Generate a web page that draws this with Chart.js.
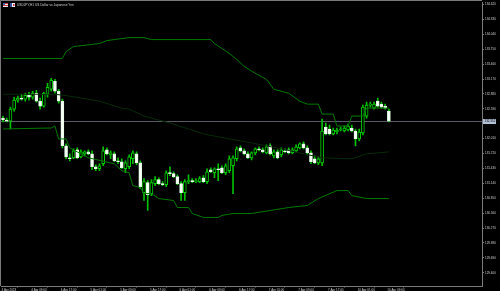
<!DOCTYPE html>
<html><head><meta charset="utf-8">
<script src="https://cdn.jsdelivr.net/npm/chart.js@4.4.0/dist/chart.umd.min.js"></script>
<style>html,body{margin:0;padding:0;background:#000;}canvas{display:block}</style>
</head><body>
<canvas id="c" width="500" height="291"></canvas>
<script>
// ---- data (USDJPY H1, 4 Apr 01:00 .. 10 Apr 09:00) ----
const opens = [132.410,132.372,132.352,132.584,132.758,132.797,132.778,132.855,132.816,132.894,
132.739,132.642,132.874,132.971,133.126,132.932,132.739,131.869,131.637,131.637,
131.792,131.656,131.714,131.753,131.714,131.463,131.424,131.521,131.792,131.695,
131.714,131.579,131.560,131.424,131.463,131.618,131.714,131.540,130.960,131.154,
130.941,131.134,131.212,131.134,131.115,131.347,131.328,131.270,131.134,130.960,
131.173,131.192,131.173,131.173,131.250,131.173,131.405,131.347,131.424,131.444,
131.347,131.386,131.482,131.618,131.830,131.772,131.714,131.637,131.734,131.811,
131.792,131.734,131.869,131.676,131.753,131.695,131.772,131.792,131.734,131.772,
131.830,131.908,131.830,131.734,131.618,131.540,131.540,132.236,132.198,132.101,
132.140,132.178,132.159,132.178,132.217,132.159,132.004,132.120,132.449,132.662,
132.604,132.739,132.681,132.642,132.546];
const highs = [132.449,132.410,132.623,132.816,132.836,132.874,132.894,132.913,132.932,132.952,
132.797,132.913,133.087,133.184,133.165,132.971,132.778,131.908,131.714,131.811,
131.830,131.792,131.772,131.792,131.772,131.502,131.521,131.850,131.830,131.772,
131.753,131.637,131.618,131.579,131.695,131.772,131.753,131.579,131.231,131.192,
131.212,131.270,131.250,131.173,131.386,131.463,131.366,131.308,131.173,131.212,
131.308,131.231,131.231,131.270,131.289,131.424,131.444,131.444,131.521,131.482,
131.521,131.676,131.676,131.850,131.869,131.811,131.753,131.753,131.830,131.850,
131.830,131.888,131.908,131.792,131.792,131.830,131.811,131.830,131.830,131.888,
131.927,131.946,131.869,131.772,131.676,131.656,132.391,132.314,132.275,132.217,
132.217,132.236,132.256,132.294,132.275,132.198,132.198,132.662,132.720,132.720,
132.720,132.797,132.720,132.681,132.584];
const lows = [132.333,132.333,132.198,132.546,132.720,132.758,132.739,132.758,132.778,132.720,
132.584,132.623,132.816,132.932,132.894,132.700,131.830,131.618,131.579,131.618,
131.618,131.637,131.676,131.695,131.405,131.386,131.386,131.482,131.695,131.618,
131.560,131.521,131.424,131.347,131.424,131.521,131.502,131.038,130.806,130.612,
130.902,131.096,131.115,131.096,131.076,131.289,131.250,131.115,130.806,130.806,
131.134,131.154,131.154,131.154,131.154,131.134,131.347,131.250,131.192,131.328,
131.308,131.347,130.941,131.579,131.753,131.695,131.618,131.598,131.695,131.772,
131.734,131.714,131.695,131.637,131.618,131.656,131.734,131.714,131.714,131.753,
131.811,131.811,131.695,131.521,131.521,131.502,131.482,132.082,132.082,132.082,
132.101,132.159,132.140,132.159,132.140,131.869,131.966,132.082,132.410,132.623,
132.584,132.623,132.604,132.584,132.333];
const closes = [132.372,132.352,132.584,132.758,132.797,132.778,132.855,132.816,132.894,132.739,
132.642,132.894,133.010,133.145,132.932,132.739,131.869,131.656,131.618,131.772,
131.637,131.753,131.753,131.714,131.463,131.424,131.482,131.772,131.714,131.734,
131.579,131.560,131.444,131.540,131.656,131.734,131.540,131.076,131.173,130.922,
131.154,131.212,131.134,131.115,131.347,131.328,131.270,131.134,130.960,131.173,
131.192,131.173,131.192,131.231,131.173,131.366,131.366,131.424,131.405,131.347,
131.482,131.618,131.637,131.811,131.772,131.714,131.637,131.734,131.811,131.792,
131.753,131.850,131.714,131.753,131.637,131.792,131.753,131.734,131.792,131.850,
131.908,131.830,131.734,131.560,131.540,131.618,132.159,132.101,132.101,132.178,
132.178,132.198,132.217,132.256,132.159,132.004,132.140,132.623,132.662,132.681,
132.681,132.642,132.623,132.604,132.352];

// indicator lines: breakpoints (bar index, price)
const upperX = [0,16,17,19,26,28,34,38,40,56,57,59,61,63,65,68,71,73,77,80,82,85,86,89,90,93,94,97,98,104];
const upperY = [133.570,133.570,133.705,133.802,133.860,133.918,133.976,133.976,133.937,133.937,133.860,133.763,133.667,133.551,133.415,133.280,133.164,132.971,132.894,132.739,132.681,132.681,132.488,132.488,132.256,132.256,132.449,132.449,132.604,132.604];
const midX = [0,14,18,26,32,34,38,45,50,54,61,67,75,86,94,98,104];
const midY = [132.874,132.874,132.836,132.739,132.604,132.584,132.449,132.314,132.198,132.101,132.004,131.927,131.811,131.637,131.618,131.714,131.753];
const lowerX = [0,13,14,15,17,18,23,30,32,34,35,37,38,40,42,46,47,50,51,54,58,59,62,67,77,82,85,90,93,94,98,104];
const lowerY = [132.198,132.217,132.256,132.004,132.004,131.830,131.637,131.521,131.386,131.347,131.096,131.057,130.941,130.941,130.844,130.806,130.670,130.670,130.554,130.477,130.477,130.516,130.554,130.554,130.670,130.709,130.844,130.999,130.999,130.902,130.844,130.844];

const yTicks = [134.620,134.330,134.040,133.750,133.460,133.170,132.880,132.590,132.010,131.720,131.430,131.140,130.850,130.560,130.270,129.980,129.690,129.400];
const xTickIdx = [0,8,16,24,32,40,48,56,64,72,80,88,96,104];
const xTickText = ['4 Apr 2023','4 Apr 09:00','4 Apr 17:00','5 Apr 01:00','5 Apr 09:00','5 Apr 17:00','6 Apr 01:00','6 Apr 09:00','6 Apr 17:00','7 Apr 01:00','7 Apr 09:00','7 Apr 17:00','10 Apr 01:00','10 Apr 09:00'];
const titleSymbol = 'USDJPY,H1';
const titleText = 'US Dollar vs Japanese Yen';

// ---- build ----
const bodyData = opens.map((o,i)=>({x:i, y:[o, closes[i]]}));
const wickData = lows.map((l,i)=>({x:i, y:[l, highs[i]]}));
const isBull = opens.map((o,i)=>closes[i] >= o);
const pts = (xs, ys) => xs.map((x,i)=>({x, y:ys[i]}));
const AX = '#7a7a7a', TXT = '#cfcfcf', FONT = 'Liberation Sans';

const decor = {
  id:'decor',
  beforeDraw(chart){
    const ctx = chart.ctx; ctx.save(); ctx.fillStyle='#000'; ctx.fillRect(0,0,chart.width,chart.height); ctx.restore();
  },
  beforeDatasetsDraw(chart){
    const {ctx, chartArea:a, scales:{y}} = chart;
    const py = Math.round(y.getPixelForValue(closes[closes.length-1])) + 0.5;
    ctx.save(); ctx.strokeStyle='#585866'; ctx.lineWidth=1;
    ctx.beginPath(); ctx.moveTo(a.left, py); ctx.lineTo(a.right, py); ctx.stroke(); ctx.restore();
  },
  afterDraw(chart){
    const {ctx, chartArea:a, scales:{y}} = chart;
    ctx.save();
    ctx.strokeStyle=AX; ctx.lineWidth=1;
    ctx.beginPath(); ctx.moveTo(0.5, a.bottom); ctx.lineTo(0.5, 0.5); ctx.lineTo(a.right, 0.5); ctx.stroke();
    const last = closes[closes.length-1];
    const py = Math.round(y.getPixelForValue(last)) + 0.5;
    ctx.fillStyle='#b4c0d6'; ctx.fillRect(a.right+1, py-2.5, 13, 5);
    ctx.fillStyle='#000'; ctx.font='3px "'+FONT+'"'; ctx.textBaseline='middle'; ctx.textAlign='left';
    ctx.fillText(last.toFixed(3), a.right+2.5, py);
    // title icons
    ctx.fillStyle='#e8e8e8'; ctx.fillRect(3,3,5,4);
    ctx.fillStyle='#d04040'; ctx.fillRect(3,3,5,1); ctx.fillRect(3,5,5,1);
    ctx.fillStyle='#4060b0'; ctx.fillRect(3,3,2,2);
    ctx.fillStyle='#f0f0f0'; ctx.fillRect(10,3,5,4);
    ctx.fillStyle='#3050a0'; ctx.fillRect(10,3,2,4);
    ctx.fillStyle='#d03030'; ctx.fillRect(13,4,1.5,2);
    ctx.fillStyle=TXT; ctx.font='3.2px "'+FONT+'"';
    ctx.fillText(titleSymbol, 17, 5.2);
    ctx.fillText(titleText, 35, 5.2);
    ctx.restore();
  }
};

new Chart(document.getElementById('c'), {
  type:'bar',
  data:{ datasets:[
    {type:'line', data:pts(upperX, upperY), borderColor:'#007a00', borderWidth:1, pointRadius:0, tension:0},
    {type:'line', data:pts(lowerX, lowerY), borderColor:'#007a00', borderWidth:1, pointRadius:0, tension:0},
    {type:'line', data:pts(midX, midY), borderColor:'#072a07', borderWidth:1, pointRadius:0, tension:0},
    {type:'bar', data:bodyData, backgroundColor:isBull.map(b=>b?'#000000':'#ffffff'),
      borderColor:isBull.map(b=>b?'#00d000':'#e0ffe0'), borderWidth:1, borderSkipped:false,
      barThickness:3, grouped:false, minBarLength:1},
    {type:'bar', data:wickData, backgroundColor:'#00c000', borderWidth:0, barThickness:1, grouped:false}
  ]},
  options:{
    responsive:false, animation:false, devicePixelRatio:1,
    layout:{padding:{left:1, top:1, right:0, bottom:0}},
    plugins:{legend:{display:false}, tooltip:{enabled:false}},
    scales:{
      x:{type:'linear', min:-0.54, max:129.1, offset:false,
        afterBuildTicks:(s)=>{ s.ticks = xTickIdx.map(v=>({value:v})); },
        afterFit:(s)=>{ s.height = 5; },
        ticks:{autoSkip:false, maxRotation:0, minRotation:0, align:'start', labelOffset:-1.5, padding:0.5,
          color:TXT, font:{size:3, family:FONT},
          callback:(v)=>{ const j = xTickIdx.indexOf(v); return j>=0 ? xTickText[j] : ''; }},
        grid:{drawOnChartArea:false, drawTicks:true, tickLength:1.5, color:AX},
        border:{display:true, color:AX}
      },
      y:{type:'linear', position:'right', min:129.143, max:134.653,
        afterBuildTicks:(s)=>{ s.ticks = yTicks.map(v=>({value:v})); },
        afterFit:(s)=>{ s.width = 18; },
        ticks:{autoSkip:false, padding:1, color:TXT, font:{size:3, family:FONT},
          callback:(v)=>Number(v).toFixed(3)},
        grid:{drawOnChartArea:false, drawTicks:true, tickLength:2, color:AX},
        border:{display:true, color:AX}
      }
    }
  },
  plugins:[decor]
});
</script>
</body></html>
